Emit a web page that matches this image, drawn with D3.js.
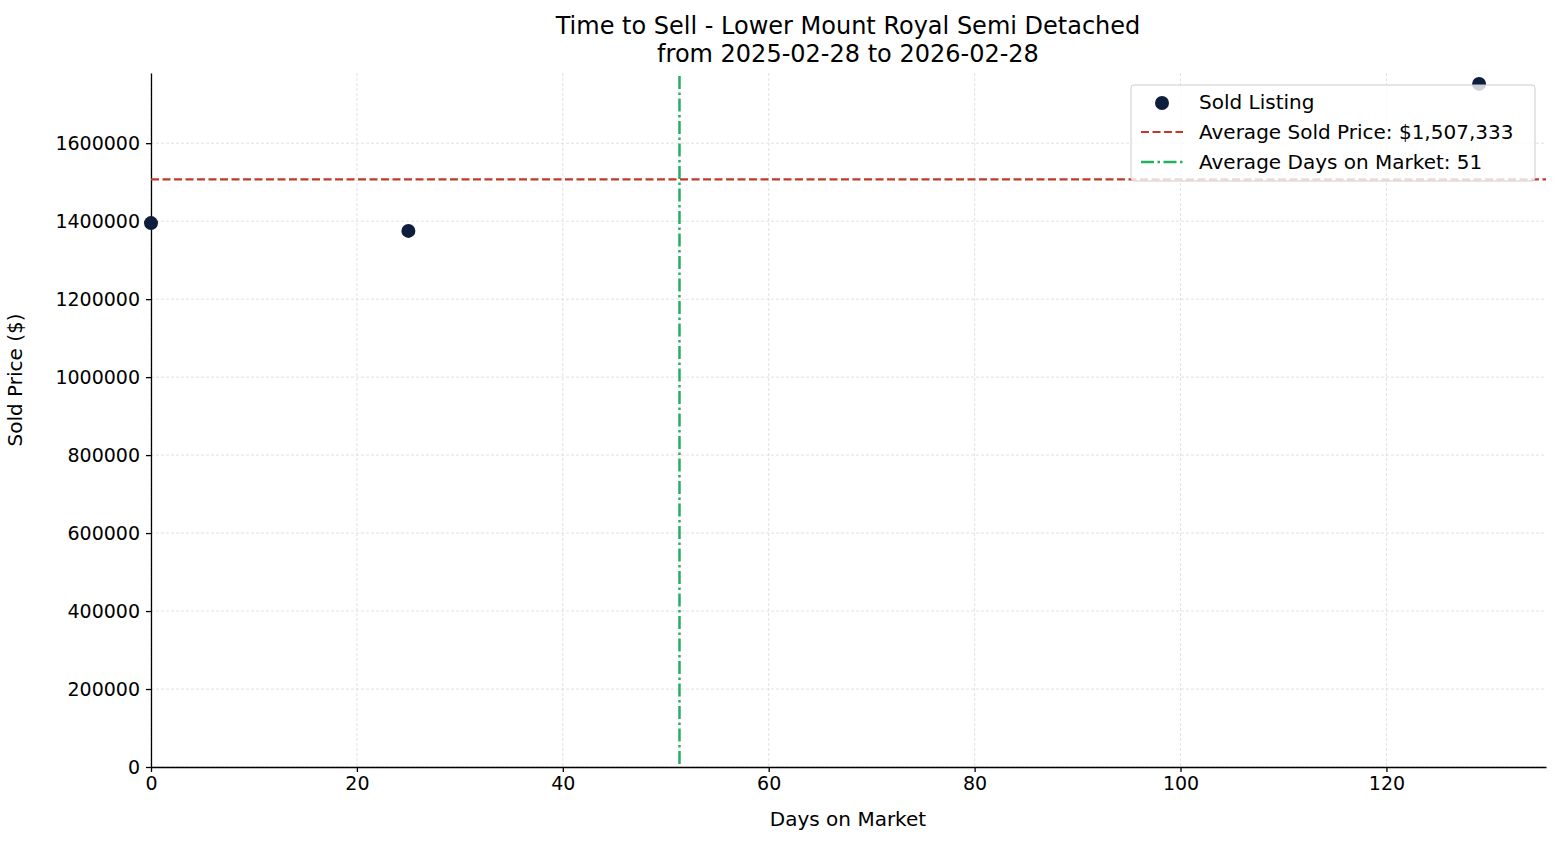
<!DOCTYPE html>
<html><head><meta charset="utf-8">
<script src="https://cdn.jsdelivr.net/npm/d3@7"></script>
<style>
body{margin:0;background:#fff;font-family:"DejaVu Sans",sans-serif;}
text{font-family:"DejaVu Sans",sans-serif;}
</style></head>
<body><div id="chart"></div>
<script>
// data
const days = [0, 25, 129];
const prices = [1395000, 1375000, 1752000];
const xTicks = [0, 20, 40, 60, 80, 100, 120];
const yTicks = [0, 200000, 400000, 600000, 800000, 1000000, 1200000, 1400000, 1600000];

const W = 1560, H = 845;
const margin = {top: 73, right: 14, bottom: 78, left: 151};
const width = W - margin.left - margin.right;
const height = H - margin.top - margin.bottom;

const avgPrice = d3.mean(prices);
const avgDays = d3.mean(days);

const svg = d3.select("#chart").append("svg")
  .attr("width", W).attr("height", H)
  .append("g").attr("transform", `translate(${margin.left},${margin.top})`);

const x = d3.scaleLinear().domain([0, 135.5]).range([0, width]);
const y = d3.scaleLinear().domain([0, 1780000]).range([height, 0]);

// grid
svg.append("g").selectAll("line").data(xTicks).join("line")
  .attr("x1", d => x(d)).attr("x2", d => x(d)).attr("y1", 0).attr("y2", height)
  .attr("stroke", "#d9d9d9").attr("stroke-width", 0.8).attr("stroke-dasharray", "3,2");
svg.append("g").selectAll("line").data(yTicks).join("line")
  .attr("x1", 0).attr("x2", width).attr("y1", d => y(d)).attr("y2", d => y(d))
  .attr("stroke", "#d9d9d9").attr("stroke-width", 0.8).attr("stroke-dasharray", "3,2");

// axes
svg.append("g").attr("transform", `translate(0,${height})`)
  .call(d3.axisBottom(x).tickValues(xTicks).tickSize(5).tickSizeOuter(0).tickPadding(5))
  .call(g => g.selectAll("text").style("font-size", "19px").attr("fill", "#000"))
  .call(g => g.selectAll("path,line").attr("stroke-width", 1.3));
svg.append("g")
  .call(d3.axisLeft(y).tickValues(yTicks).tickFormat(d3.format("d")).tickSize(5).tickSizeOuter(0).tickPadding(6))
  .call(g => g.selectAll("text").style("font-size", "19px").attr("fill", "#000"))
  .call(g => g.selectAll("path,line").attr("stroke-width", 1.3));

// average lines
svg.append("line").attr("x1", 0).attr("x2", width).attr("y1", y(avgPrice)).attr("y2", y(avgPrice))
  .attr("stroke", "#c0392b").attr("stroke-width", 2.2).attr("stroke-dasharray", "8,3.5");
svg.append("line").attr("x1", x(avgDays)).attr("x2", x(avgDays)).attr("y1", 3).attr("y2", height)
  .attr("stroke", "#27ae60").attr("stroke-width", 2.5).attr("stroke-dasharray", "13,3.5,2.5,3.5");

// points
svg.append("g").selectAll("circle").data(days).join("circle")
  .attr("cx", d => x(d)).attr("cy", (d, i) => y(prices[i])).attr("r", 7)
  .attr("fill", "#0d1f3c");

// title
const t = svg.append("text").attr("text-anchor", "middle")
  .style("font-size", "24px").attr("fill", "#000");
t.append("tspan").attr("x", 848 - margin.left).attr("y", -39).text("Time to Sell - Lower Mount Royal Semi Detached");
t.append("tspan").attr("x", 848 - margin.left).attr("y", -11).text("from 2025-02-28 to 2026-02-28");

// axis labels
svg.append("text").attr("x", 848 - margin.left).attr("y", height + 59).attr("text-anchor", "middle")
  .style("font-size", "20px").text("Days on Market");
svg.append("text").attr("transform", `translate(-129,${height / 2 - 40}) rotate(-90)`).attr("text-anchor", "middle")
  .style("font-size", "20px").text("Sold Price ($)");

// legend
const lg = svg.append("g").attr("transform", `translate(${1131 - margin.left},${85 - margin.top})`);
lg.append("rect").attr("width", 404).attr("height", 96).attr("rx", 3)
  .attr("fill", "rgba(255,255,255,0.8)").attr("stroke", "#ccc");
lg.append("circle").attr("cx", 31).attr("cy", 18).attr("r", 7).attr("fill", "#0d1f3c");
lg.append("line").attr("x1", 10).attr("x2", 52).attr("y1", 47).attr("y2", 47)
  .attr("stroke", "#c0392b").attr("stroke-width", 2.2).attr("stroke-dasharray", "8,3.5");
lg.append("line").attr("x1", 10).attr("x2", 52).attr("y1", 77).attr("y2", 77)
  .attr("stroke", "#27ae60").attr("stroke-width", 2.5).attr("stroke-dasharray", "13,3.5,2.5,3.5");
const labels = ["Sold Listing", `Average Sold Price: $${d3.format(",.0f")(avgPrice)}`, `Average Days on Market: ${Math.round(avgDays)}`];
lg.selectAll("text.l").data(labels).join("text").attr("class", "l")
  .attr("x", 68).attr("y", (d, i) => 24 + i * 30).style("font-size", "20px").text(d => d);
</script></body></html>
